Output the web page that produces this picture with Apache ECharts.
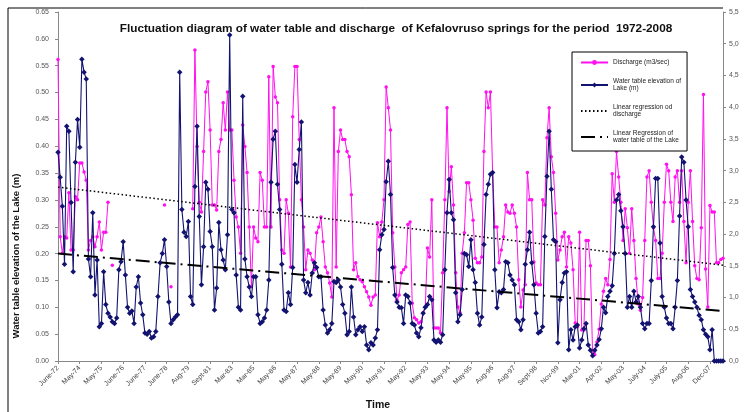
<!DOCTYPE html>
<html>
<head>
<meta charset="utf-8">
<script src="https://cdn.jsdelivr.net/npm/echarts@6/dist/echarts.min.js"></script>
<style>
  html, body { margin: 0; padding: 0; background: #fff; }
  #chart { width: 754px; height: 412px; }
</style>
</head>
<body>
<div id="chart"></div>
<script>
// tick labels of the time axis (one every 10 samples)
const tickLabels = ['June-72','May-74','May-75','June-76','June-77','June-78','Aug-79','Sept-81','Mar-83','Mar-85',
  'May-86','May-87','May-88','May-89','May-90','May-91','May-92','May-93','May-94','May-95',
  'Aug-96','Aug-97','Sept-98','Nov-99','Mar-01','Apr-02','May-03','July-04','July-05','Aug-06','Dec-07'];

// water table elevation of the lake (m), left axis
const waterTable = [
  .389,.342,.288,.18,.437,.428,.295,.166,.37,.45,
  .398,.562,.538,.525,.19,.157,.276,.123,.188,.064,
  .07,.166,.105,.089,.082,.073,.07,.08,.17,.185,
  .222,.16,.10,.089,.093,.07,.138,.157,.108,.086,
  .052,.05,.055,.043,.045,.055,.12,.183,.2,.226,
  .176,.11,.07,.077,.082,.086,.538,.282,.24,.232,
  .26,.12,.105,.325,.437,.269,.142,.213,.333,.32,
  .241,.213,.095,.136,.258,.207,.188,.17,.235,.607,
  .282,.276,.16,.10,.095,.493,.19,.157,.138,.12,
  .157,.157,.086,.07,.073,.08,.095,.151,.333,.413,
  .428,.329,.282,.18,.095,.092,.127,.105,.174,.366,
  .333,.394,.445,.151,.127,.146,.123,.164,.183,.174,
  .157,.157,.095,.067,.052,.058,.07,.148,.146,.151,
  .138,.105,.089,.049,.055,.138,.082,.049,.058,.064,
  .055,.064,.03,.021,.034,.03,.043,.058,.207,.235,
  .245,.334,.372,.31,.174,.123,.11,.10,.099,.07,
  .123,.12,.108,.07,.067,.052,.045,.062,.089,.10,
  .105,.12,.114,.039,.035,.039,.035,.049,.17,.276,
  .338,.276,.263,.127,.073,.086,.133,.20,.198,.176,
  .226,.17,.146,.089,.067,.082,.217,.31,.329,.348,
  .351,.17,.099,.129,.127,.133,.185,.183,.16,.151,
  .142,.077,.073,.058,.077,.18,.207,.24,.183,.142,
  .089,.052,.055,.064,.232,.344,.428,.32,.226,.222,
  .034,.114,.146,.164,.166,.021,.058,.039,.064,.067,
  .024,.039,.06,.07,.03,.02,.01,.02,.03,.04,
  .06,.1,.09,.12,.13,.14,.2,.3,.31,.28,
  .25,.2,.1,.12,.1,.13,.11,.12,.1,.07,
  .06,.07,.07,.15,.25,.34,.34,.22,.12,.1,
  .08,.07,.07,.06,.1,.15,.27,.38,.37,.3,
  .25,.133,.12,.11,.10,.085,.077,.058,.05,.045,
  .021,.058,0,0,0,0,0
];

// discharge (m3/sec), right axis
const discharge = [
  4.75,1.96,1.7,1.96,1.94,2.65,1.75,1.75,2.59,2.54,
  3.12,3.12,2.98,2.85,1.75,1.9,1.96,1.8,1.96,2.19,
  1.75,2.03,2.03,2.5,null,1.51,null,null,null,null,
  null,null,null,null,null,null,null,null,null,null,
  null,null,null,null,null,null,null,null,null,2.46,
  null,null,1.17,null,null,null,null,null,null,null,
  null,null,2.4,4.9,3.38,2.5,2.35,3.3,4.24,4.4,
  3.64,2.46,2.46,2.38,3.3,3.49,4.07,3.64,4.24,3.64,
  3.64,2.85,2.27,2.11,1.7,3.72,3.38,2.97,2.11,1.17,
  2.11,1.94,1.88,2.97,2.85,2.11,2.11,4.48,2.11,4.64,
  4.16,4.07,2.54,1.75,1.7,2.54,2.33,1.48,3.85,4.64,
  4.64,3.49,2.54,2.11,1.44,1.75,1.7,1.59,1.44,2.02,
  2.11,2.27,1.88,1.48,1.39,1.23,1.01,3.99,1.48,3.3,
  3.64,3.49,3.49,3.3,3.22,2.62,1.44,1.55,1.33,1.28,
  1.25,1.17,1.09,1.01,0.88,1.01,1.04,2.18,1.96,2.19,
  2.54,4.32,3.99,3.64,2.02,1.48,0.96,1.04,1.39,1.44,
  1.48,2.15,2.19,0.91,0.68,0.65,0.6,0.62,0.76,0.85,
  1.78,1.64,2.54,0.52,0.52,0.52,0.44,1.39,2.54,3.99,
  2.67,3.06,2.46,1.39,0.85,0.76,1.7,2.02,2.81,2.81,
  2.54,2.22,1.62,1.55,1.55,1.64,3.3,4.24,3.99,4.24,
  2.97,2.11,2.11,1.55,1.75,1.96,2.46,2.35,2.33,2.46,
  2.33,2.11,1.28,0.85,1.12,1.2,2.97,2.54,2.54,1.56,
  1.23,1.2,1.2,2.54,2.46,3.52,3.99,3.22,2.97,2.33,
  1.59,1.75,1.96,2.03,1.48,1.96,1.86,1.44,0.6,0.54,
  2.03,0.49,0.49,1.9,1.9,1.5,0.1,0.1,0.3,0.5,
  0.9,1.1,1.3,1.2,1.6,2.95,2.5,3.3,2.9,2.5,
  1.9,2.4,2.1,1.7,2.4,1.9,1.3,0.9,0.8,1.0,
  1.9,2.9,3.0,2.5,2.1,1.9,1.3,1.3,1.7,2.5,
  3.1,3.0,2.5,2.2,2.9,3.0,2.5,3.0,2.2,1.55,
  2.5,3.0,2.2,1.5,1.3,1.28,2.1,4.2,1.45,0.85,
  2.45,2.35,2.35,1.55,1.55,1.6,1.62
];

// linear regression end values (start, end)
const dischargeTrend = [2.74, 1.51];
const waterTrend = [0.20, 0.093];

const N = waterTable.length;
const categories = waterTable.map((v, i) => i);
const lastIdx = N - 1;

const chart = echarts.init(document.getElementById('chart'));

const legendNames = {
  discharge: 'Discharge (m3/sec)',
  water: 'Water table elevation of\nLake (m)',
  dTrend: 'Linear regression od\ndischarge',
  wTrend: 'Linear Regression of\nwater table of the Lake'
};

const font = 'Liberation Sans, Arial';

const option = {
  backgroundColor: '#fff',
  animation: false,
  title: {
    text: 'Fluctuation diagram of water table and discharge  of Kefalovruso springs for the period  1972-2008',
    left: 391, top: 18, textAlign: 'center',
    textStyle: { fontFamily: font, fontSize: 11.8, fontWeight: 'bold', color: '#111' }
  },
  legend: {
    orient: 'vertical',
    left: 572, top: 52,
    width: 116, height: 94,
    padding: [7, 6, 7, 8],
    itemGap: 12,
    itemWidth: 27, itemHeight: 6,
    borderColor: '#000', borderWidth: 1,
    backgroundColor: '#fff',
    textStyle: { fontFamily: font, fontSize: 6.5, color: '#222', lineHeight: 7 },
    data: [
      { name: legendNames.discharge },
      { name: legendNames.water },
      { name: legendNames.dTrend, itemStyle: { opacity: 0 } },
      { name: legendNames.wTrend, itemStyle: { opacity: 0 } }
    ]
  },
  grid: { left: 58, right: 31, top: 12, bottom: 51 },
  xAxis: {
    type: 'category',
    data: categories,
    boundaryGap: false,
    axisLine: { lineStyle: { color: '#888', width: 1 } },
    axisTick: { interval: 9, length: 3, lineStyle: { color: '#888' } },
    axisLabel: {
      interval: 9, rotate: 45, fontSize: 7, color: '#444', margin: 6,
      fontFamily: font,
      formatter: (v, idx) => tickLabels[Math.round(idx / 10)] || ''
    },
    splitLine: { show: false }
  },
  yAxis: [
    {
      type: 'value', min: 0, max: 0.65, interval: 0.05,
      axisLine: { show: true, lineStyle: { color: '#888' } },
      axisTick: { show: true, length: 3, lineStyle: { color: '#888' } },
      axisLabel: { fontSize: 7, color: '#555', fontFamily: font, margin: 9,
        formatter: v => v.toFixed(2) },
      splitLine: { show: false }
    },
    {
      type: 'value', min: 0, max: 5.5, interval: 0.5,
      axisLine: { show: true, lineStyle: { color: '#888' } },
      axisTick: { show: true, length: 3, lineStyle: { color: '#888' } },
      axisLabel: { fontSize: 7, color: '#555', fontFamily: font, margin: 6,
        formatter: v => v.toFixed(1).replace('.', ',') },
      splitLine: { show: false }
    }
  ],
  graphic: [
    { type: 'line', shape: { x1: 8, y1: 8, x2: 723, y2: 8 }, style: { stroke: '#000', lineWidth: 1 } },
    { type: 'line', shape: { x1: 8, y1: 8, x2: 8, y2: 412 }, style: { stroke: '#000', lineWidth: 1 } },
    {
      type: 'text', x: 16, y: 256, rotation: Math.PI / 2,
      style: { text: 'Water table elevation of the Lake (m)', font: 'bold 9.5px Liberation Sans, Arial',
        fill: '#111', align: 'center', verticalAlign: 'middle' }
    },
    {
      type: 'text', x: 378, y: 405,
      style: { text: 'Time', font: 'bold 10.5px Liberation Sans, Arial', fill: '#111',
        align: 'center', verticalAlign: 'middle' }
    }
  ],
  series: [
    {
      name: legendNames.discharge,
      type: 'line', yAxisIndex: 1,
      data: discharge,
      symbol: 'circle', symbolSize: 3.5,
      showAllSymbol: true,
      itemStyle: { color: '#ff10ee' },
      lineStyle: { color: '#ff10ee', width: 1 },
      connectNulls: false, z: 2
    },
    {
      name: legendNames.water,
      type: 'line', yAxisIndex: 0,
      data: waterTable,
      symbol: 'diamond', symbolSize: 5.5,
      showAllSymbol: true,
      itemStyle: { color: '#121270' },
      lineStyle: { color: '#121270', width: 1.1 },
      z: 3
    },
    {
      name: legendNames.dTrend,
      type: 'line', yAxisIndex: 1,
      data: [[0, dischargeTrend[0]], [lastIdx, dischargeTrend[1]]],
      symbol: 'none',
      itemStyle: { color: '#000' },
      lineStyle: { color: '#000', width: 1.5, type: [1.5, 2.5] },
      z: 4
    },
    {
      name: legendNames.wTrend,
      type: 'line', yAxisIndex: 0,
      data: [[0, waterTrend[0]], [lastIdx, waterTrend[1]]],
      symbol: 'none',
      itemStyle: { color: '#000' },
      lineStyle: { color: '#000', width: 2, type: [14, 5, 2, 5] },
      z: 4
    }
  ]
};

chart.setOption(option);
</script>
</body>
</html>
